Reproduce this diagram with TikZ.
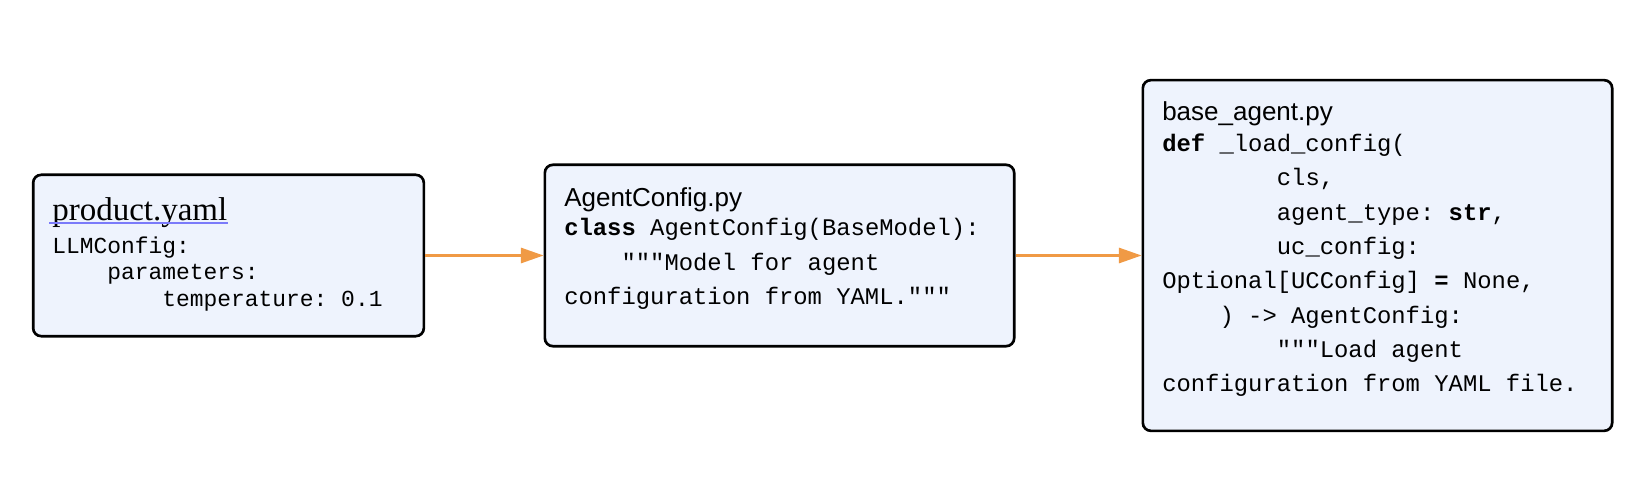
\documentclass[tikz,border=0pt]{standalone}
\usepackage{fontspec}
\setmainfont{Liberation Serif}
\setsansfont{Liberation Sans}
\setmonofont{Liberation Mono}
\usetikzlibrary{arrows.meta}

\definecolor{boxfill}{RGB}{238,243,253}
\definecolor{flowc}{RGB}{240,154,69}
\definecolor{linkc}{RGB}{122,122,250}

\begin{document}
\begin{tikzpicture}[x=0.75pt,y=-0.75pt,
        filebox/.style={draw=black,line width=2pt,rounded corners=6pt,fill=boxfill,inner sep=0pt},
        title/.style={anchor=base west,inner sep=0pt,font=\sffamily\fontsize{19.5}{23}\selectfont},
        code/.style={anchor=base west,inner sep=0pt,font=\ttfamily\fontsize{17.9}{25.7}\selectfont},
        flow/.style={draw=flowc,line width=1.5pt,-{Triangle[length=17pt,width=11.5pt]}}]
    \useasboundingbox (0,0) rectangle (1644,502);

    % File boxes
    \node[filebox,minimum width=293pt,minimum height=121pt] (yaml) at (228.5,255.5) {};
    \node[filebox,minimum width=352pt,minimum height=136pt] (cfg) at (779.5,255.5) {};
    \node[filebox,minimum width=352pt,minimum height=263pt] (base) at (1377.5,255.5) {};

    % product.yaml
    \node[title,font=\rmfamily\fontsize{24.75}{28}\selectfont] (yamltitle) at (52,221) {product.yaml};
    \draw[linkc,line width=1pt] ([xshift=-2pt,yshift=-1.6pt]yamltitle.base west) -- ([yshift=-1.6pt]yamltitle.base east);
    \node[code,font=\ttfamily\fontsize{17.2}{20}\selectfont] (yamlcode) at (52,253) {%
        \begin{tabular}[t]{@{}l@{}}
        LLMConfig:\\
        ~~~~parameters:\\
        ~~~~~~~~temperature: 0.1
        \end{tabular}};

    % AgentConfig.py
    \node[title] (cfgtitle) at (564,206.7) {AgentConfig.py};
    \node[code] (cfgcode) at (564,236) {%
        \begin{tabular}[t]{@{}l@{}}
        \textbf{class} AgentConfig(BaseModel):\\
        ~~~~"""Model for agent\\
        configuration from YAML."""
        \end{tabular}};

    % base_agent.py
    \node[title] (basetitle) at (1162,120.7) {base\_agent.py};
    \node[code] (basecode) at (1162,151.7) {%
        \begin{tabular}[t]{@{}l@{}}
        \textbf{def} \_load\_config(\\
        ~~~~~~~~cls,\\
        ~~~~~~~~agent\_type: \textbf{str},\\
        ~~~~~~~~uc\_config:\\
        Optional[UCConfig] \textbf{=} None,\\
        ~~~~) -> AgentConfig:\\
        ~~~~~~~~"""Load agent\\
        configuration from YAML file.
        \end{tabular}};

    % Flow
    \draw[flow] (yaml) -- (cfg);
    \draw[flow] (cfg) -- (base);

\end{tikzpicture}
\end{document}
